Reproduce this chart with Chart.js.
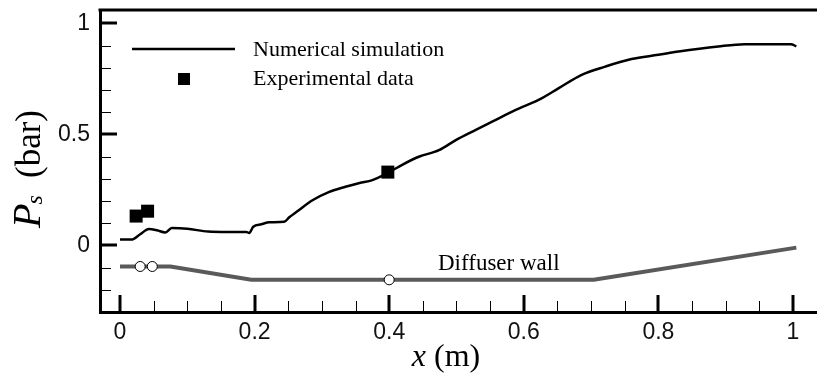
<!DOCTYPE html>
<html>
<head>
<meta charset="utf-8">
<script src="https://cdn.jsdelivr.net/npm/chart.js@4.4.0/dist/chart.umd.min.js"></script>
<style>
html, body { margin: 0; padding: 0; background: #fff; }
#wrap { width: 817px; height: 380px; }
</style>
</head>
<body>
<div id="wrap"><canvas id="psChart" width="817" height="380"></canvas></div>
<script>
// numerical simulation
const simX = [0, 0.017, 0.03, 0.043, 0.055, 0.067, 0.077, 0.1, 0.131, 0.16, 0.188, 0.192, 0.198, 0.21, 0.222, 0.244,
  0.252, 0.262, 0.286, 0.311, 0.335, 0.356, 0.375, 0.397, 0.42, 0.444, 0.474, 0.499, 0.528, 0.553, 0.588, 0.622,
  0.652, 0.686, 0.721, 0.76, 0.8, 0.83, 0.889, 0.928, 0.997, 1.005];
const simY = [0.026, 0.026, 0.05, 0.074, 0.068, 0.058, 0.078, 0.075, 0.062, 0.06, 0.06, 0.056, 0.084, 0.095, 0.104, 0.106,
  0.128, 0.15, 0.203, 0.241, 0.264, 0.281, 0.294, 0.325, 0.364, 0.399, 0.429, 0.474, 0.519, 0.557, 0.61, 0.655,
  0.708, 0.768, 0.805, 0.839, 0.858, 0.873, 0.896, 0.906, 0.906, 0.896];

// experimental data
const expX = [0.024, 0.041, 0.398];
const expY = [0.132, 0.154, 0.33];

// diffuser wall outline and its probe holes
const wallX = [0, 0.075, 0.195, 0.704, 1.005];
const wallY = [-0.095, -0.095, -0.155, -0.155, -0.01];
const holeX = [0.03, 0.048, 0.4];
const holeY = [-0.095, -0.095, -0.155];

const xTicks = [0, 0.2, 0.4, 0.6, 0.8, 1];
const xTickLabels = ['0', '0.2', '0.4', '0.6', '0.8', '1'];
const xMinor = [0.05, 0.1, 0.15, 0.25, 0.3, 0.35, 0.45, 0.5, 0.55, 0.65, 0.7, 0.75, 0.85, 0.9, 0.95];
const yTicks = [0, 0.5, 1];
const yTickLabels = ['0', '0.5', '1'];
const yMinor = [-0.2, -0.1, 0.1, 0.2, 0.3, 0.4, 0.6, 0.7, 0.8, 0.9];

const pts = (xs, ys) => xs.map((x, i) => ({ x: x, y: ys[i] }));

// inward ticks, top frame line, legend and axis titles
const decor = {
  id: 'decor',
  afterDraw(chart) {
    const { ctx, chartArea: a, scales: { x, y } } = chart;
    ctx.save();
    ctx.strokeStyle = '#000';
    ctx.lineWidth = 3;
    ctx.beginPath();
    ctx.moveTo(a.left - 1.5, a.top);
    ctx.lineTo(a.right, a.top);
    ctx.stroke();

    xTicks.forEach(v => {
      const p = Math.round(x.getPixelForValue(v));
      ctx.lineWidth = 3;
      ctx.beginPath(); ctx.moveTo(p, a.bottom); ctx.lineTo(p, a.bottom - 17); ctx.stroke();
    });
    xMinor.forEach(v => {
      const p = Math.round(x.getPixelForValue(v)) + 0.5;
      ctx.lineWidth = 1;
      ctx.beginPath(); ctx.moveTo(p, a.bottom); ctx.lineTo(p, a.bottom - 11); ctx.stroke();
    });
    yTicks.forEach(v => {
      const p = Math.round(y.getPixelForValue(v));
      ctx.lineWidth = 3;
      ctx.beginPath(); ctx.moveTo(a.left, p); ctx.lineTo(a.left + 17, p); ctx.stroke();
    });
    yMinor.forEach(v => {
      const p = Math.round(y.getPixelForValue(v)) + 0.5;
      ctx.lineWidth = 1;
      ctx.beginPath(); ctx.moveTo(a.left, p); ctx.lineTo(a.left + 11, p); ctx.stroke();
    });

    // legend
    ctx.lineWidth = 2.5;
    ctx.beginPath(); ctx.moveTo(132, 49); ctx.lineTo(235, 49); ctx.stroke();
    ctx.fillStyle = '#000';
    ctx.fillRect(178, 73, 12, 12);
    ctx.font = '22px "Liberation Serif"';
    ctx.textBaseline = 'alphabetic';
    ctx.textAlign = 'left';
    ctx.fillText('Numerical simulation', 253, 56);
    ctx.fillText('Experimental data', 253, 85);

    ctx.font = '23px "Liberation Serif"';
    ctx.fillText('Diffuser wall', 438, 270);

    // x title
    ctx.font = 'italic 32px "Liberation Serif"';
    const xw = ctx.measureText('x').width;
    ctx.font = '32px "Liberation Serif"';
    const rw = ctx.measureText(' (m)').width;
    const sx = 446 - (xw + rw) / 2;
    ctx.font = 'italic 32px "Liberation Serif"';
    ctx.fillText('x', sx, 366);
    ctx.font = '32px "Liberation Serif"';
    ctx.fillText(' (m)', sx + xw, 366);

    // y title
    ctx.translate(40, 228);
    ctx.rotate(-Math.PI / 2);
    ctx.font = 'italic 40px "Liberation Serif"';
    ctx.fillText('P', 0, 0);
    const pw = ctx.measureText('P').width;
    ctx.font = 'italic 24px "Liberation Serif"';
    ctx.fillText('s', pw - 1, 2);
    ctx.font = '35px "Liberation Serif"';
    ctx.fillText('(bar)', 50, 0);
    ctx.restore();
  }
};

new Chart('psChart', {
  type: 'scatter',
  data: {
    datasets: [
      {
        label: 'Experimental data',
        data: pts(expX, expY),
        pointStyle: 'rect',
        pointRadius: 9.2,
        backgroundColor: '#000',
        borderColor: '#000',
        borderWidth: 0
      },
      {
        label: 'Numerical simulation',
        data: pts(simX, simY),
        showLine: true,
        borderColor: '#000',
        borderWidth: 2.5,
        pointRadius: 0,
        cubicInterpolationMode: 'monotone'
      },
      {
        label: 'Probe holes',
        data: pts(holeX, holeY),
        pointStyle: 'circle',
        pointRadius: 5,
        backgroundColor: '#fff',
        borderColor: '#000',
        borderWidth: 1
      },
      {
        label: 'Diffuser wall',
        data: pts(wallX, wallY),
        showLine: true,
        borderColor: '#5a5a5a',
        borderWidth: 4,
        pointRadius: 0,
        tension: 0
      }
    ]
  },
  options: {
    responsive: false,
    animation: false,
    events: [],
    layout: { autoPadding: false, padding: { top: 10, right: 0, left: 0, bottom: 0 } },
    plugins: { legend: { display: false }, tooltip: { enabled: false } },
    scales: {
      x: {
        type: 'linear',
        min: -0.0297,
        max: 1.0357,
        grid: { display: false, drawTicks: false },
        border: { display: true, width: 3, color: '#000' },
        afterBuildTicks: s => { s.ticks = xTicks.map(v => ({ value: v })); },
        afterFit: s => { s.height = 68; s.paddingLeft = 0; s.paddingRight = 0; },
        ticks: {
          padding: 7,
          color: '#111',
          font: { family: 'Liberation Sans', size: 23 },
          maxRotation: 0,
          callback: (v, i) => xTickLabels[i]
        }
      },
      y: {
        type: 'linear',
        min: -0.3,
        max: 1.06,
        grid: { display: false, drawTicks: false },
        border: { display: true, width: 3, color: '#000' },
        afterBuildTicks: s => { s.ticks = yTicks.map(v => ({ value: v })); },
        afterFit: s => { s.width = 100; s.paddingTop = 0; s.paddingBottom = 0; },
        ticks: {
          padding: 10,
          color: '#111',
          font: { family: 'Liberation Sans', size: 23 },
          callback: (v, i) => yTickLabels[i]
        }
      }
    }
  },
  plugins: [decor]
});
</script>
</body>
</html>
